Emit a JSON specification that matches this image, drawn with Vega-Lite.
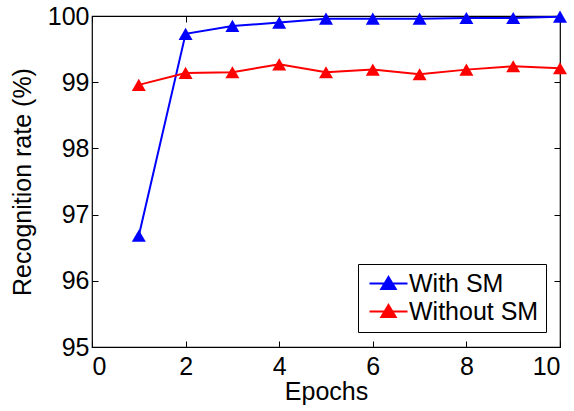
{
  "$schema": "https://vega.github.io/schema/vega-lite/v6.json",
  "autosize": "none",
  "width": 468,
  "height": 331,
  "padding": {"left": 92, "top": 16, "right": 14, "bottom": 64},
  "background": "white",
  "config": {
    "font": "Liberation Sans",
    "view": {"stroke": "black", "strokeWidth": 1.2},
    "axis": {"grid": false, "domain": false, "tickColor": "black", "tickSize": -6, "tickWidth": 1, "labelColor": "black", "labelFontSize": 25, "labelFont": "Liberation Sans", "titleFont": "Liberation Sans", "titleFontSize": 25, "titleFontWeight": "normal", "titleColor": "black"}
  },
  "data": {"values": [
    {"epoch": 1, "rate": 96.68, "series": "With SM"},
    {"epoch": 2, "rate": 99.73, "series": "With SM"},
    {"epoch": 3, "rate": 99.85, "series": "With SM"},
    {"epoch": 4, "rate": 99.9, "series": "With SM"},
    {"epoch": 5, "rate": 99.96, "series": "With SM"},
    {"epoch": 6, "rate": 99.96, "series": "With SM"},
    {"epoch": 7, "rate": 99.96, "series": "With SM"},
    {"epoch": 8, "rate": 99.97, "series": "With SM"},
    {"epoch": 9, "rate": 99.97, "series": "With SM"},
    {"epoch": 10, "rate": 99.99, "series": "With SM"},
    {"epoch": 1, "rate": 98.96, "series": "Without SM"},
    {"epoch": 2, "rate": 99.14, "series": "Without SM"},
    {"epoch": 3, "rate": 99.15, "series": "Without SM"},
    {"epoch": 4, "rate": 99.27, "series": "Without SM"},
    {"epoch": 5, "rate": 99.15, "series": "Without SM"},
    {"epoch": 6, "rate": 99.19, "series": "Without SM"},
    {"epoch": 7, "rate": 99.12, "series": "Without SM"},
    {"epoch": 8, "rate": 99.19, "series": "Without SM"},
    {"epoch": 9, "rate": 99.24, "series": "Without SM"},
    {"epoch": 10, "rate": 99.21, "series": "Without SM"}
  ]},
  "layer": [
    {
      "mark": {"type": "line", "strokeWidth": 2, "clip": false, "point": {"shape": "triangle-up", "size": 196, "filled": true, "opacity": 1}},
      "encoding": {
        "x": {"field": "epoch", "type": "quantitative", "scale": {"domain": [0, 10], "nice": false}, "axis": {"orient": "bottom", "values": [0, 2, 4, 6, 8, 10], "title": "Epochs", "labelPadding": 13, "titlePadding": 0}},
        "y": {"field": "rate", "type": "quantitative", "scale": {"domain": [95, 100], "nice": false, "zero": false}, "axis": {"orient": "left", "values": [95, 96, 97, 98, 99, 100], "title": "Recognition rate (%)", "labelPadding": 9, "titleX": -57}},
        "color": {"field": "series", "type": "nominal", "scale": {"domain": ["With SM", "Without SM"], "range": ["#0000ff", "#ff0000"]},
          "legend": {"title": null, "orient": "none", "legendX": 266, "legendY": 248, "fillColor": "white", "strokeColor": "black", "padding": 7, "labelFontSize": 25, "labelColor": "black", "labelFont": "Liberation Sans", "symbolType": "M-1.9,0H1.9M0,-0.65L0.72,0.55L-0.72,0.55Z", "symbolSize": 400, "symbolStrokeWidth": 2, "symbolOffset": 11, "labelOffset": 8, "rowPadding": 2, "symbolOpacity": 1}}
      }
    },
    {
      "mark": {"type": "point", "opacity": 0},
      "encoding": {
        "x": {"field": "epoch", "type": "quantitative", "scale": {"domain": [0, 10], "nice": false}, "axis": {"orient": "top", "values": [0, 2, 4, 6, 8, 10], "labels": false, "title": null}},
        "y": {"field": "rate", "type": "quantitative", "scale": {"domain": [95, 100], "nice": false, "zero": false}, "axis": {"orient": "right", "values": [95, 96, 97, 98, 99, 100], "labels": false, "title": null}}
      }
    }
  ],
  "resolve": {"axis": {"x": "independent", "y": "independent"}}
}
